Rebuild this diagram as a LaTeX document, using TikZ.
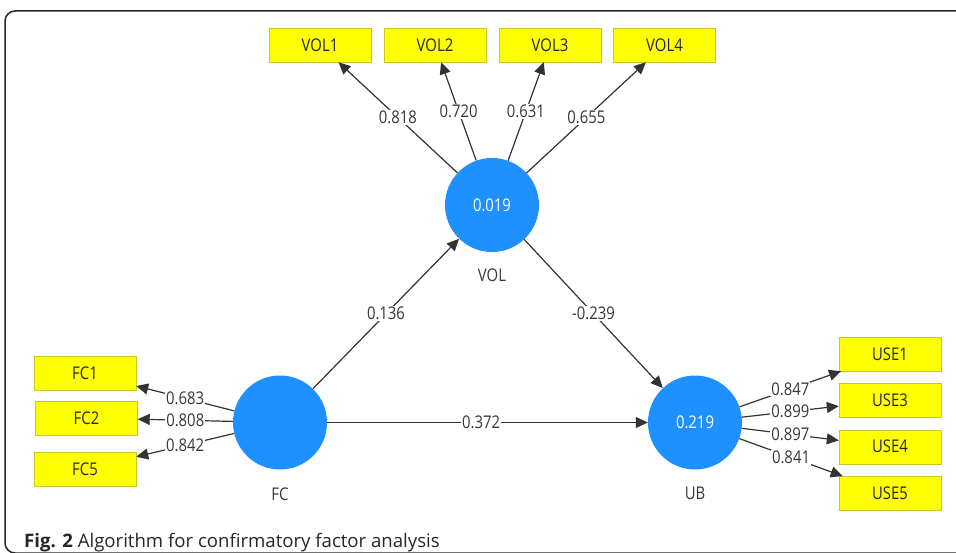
\documentclass[tikz,border=0pt]{standalone}
\usepackage{fontspec}
\setmainfont{Open Sans}
\newfontfamily\diagfont[FakeStretch=0.85]{Open Sans}
\usetikzlibrary{arrows.meta}
\definecolor{nodeblue}{RGB}{30,144,255}
\definecolor{boxyellow}{RGB}{255,255,0}
\definecolor{boxedge}{RGB}{200,200,40}
\definecolor{labelgray}{RGB}{55,55,55}
\begin{document}
\begin{tikzpicture}[x=1pt,y=-1pt,
 ind/.style={draw=boxedge, fill=boxyellow, minimum width=102pt, minimum height=34pt, inner sep=0pt, font=\diagfont\fontsize{17.5}{17.5}\selectfont, text=black!85},
 lat/.style={circle, fill=nodeblue, minimum size=94pt, inner sep=0pt, font=\diagfont\fontsize{17.5}{17.5}\selectfont, text=white},
 latname/.style={font=\diagfont\fontsize{17.5}{17.5}\selectfont, text=labelgray},
 conn/.style={draw=black!80, line width=1.2pt, -{Triangle[length=12pt,width=11pt]}},
 wt/.style={fill=white, inner sep=1pt, font=\diagfont\fontsize{17.5}{17.5}\selectfont, text=labelgray, midway}
]
\useasboundingbox (0,0) rectangle (956,553);
\begin{scope}
\clip (0,0) rectangle (956,553);
\draw[line width=1.5pt, rounded corners=10pt, black!85] (5,11) rectangle (990,553);
\end{scope}

% latent variables
\node[lat] (vol) at (492,205) {0.019};
\node[lat] (fc) at (280,422.5) {};
\node[lat] (ub) at (695,422.5) {0.219};
\node[latname] (volname) at (492,275) {VOL};
\node[latname] (fcname) at (280,494) {FC};
\node[latname] (ubname) at (695,493) {UB};

% indicators
\node[ind] (vol1) at (320,45) {VOL1};
\node[ind] (vol2) at (435,45) {VOL2};
\node[ind] (vol3) at (550,45) {VOL3};
\node[ind] (vol4) at (664.5,45) {VOL4};
\node[ind] (fc1) at (85,373) {FC1};
\node[ind] (fc2) at (86.5,418) {FC2};
\node[ind] (fc5) at (85,469) {FC5};
\node[ind] (use1) at (890,354) {USE1};
\node[ind] (use3) at (890,400.3) {USE3};
\node[ind] (use4) at (890,446.7) {USE4};
\node[ind] (use5) at (890,493.3) {USE5};

% loadings
\draw[conn] (vol) -- (vol1) node[wt] {0.818};
\draw[conn] (vol) -- (vol2) node[wt] {0.720};
\draw[conn] (vol) -- (vol3) node[wt] {0.631};
\draw[conn] (vol) -- (vol4) node[wt] {0.655};
\draw[conn] (fc) -- (fc1) node[wt] {0.683};
\draw[conn] (fc) -- (fc2) node[wt] {0.808};
\draw[conn] (fc) -- (fc5) node[wt] {0.842};
\draw[conn] (ub) -- (use1) node[wt] {0.847};
\draw[conn] (ub) -- (use3) node[wt] {0.899};
\draw[conn] (ub) -- (use4) node[wt] {0.897};
\draw[conn] (ub) -- (use5) node[wt] {0.841};

% paths
\draw[conn] (fc) -- (vol) node[wt] {0.136};
\draw[conn] (vol) -- (ub) node[wt] {-0.239};
\draw[conn] (fc) -- (ub) node[wt, pos=0.48] {0.372};

% caption
\node[anchor=base west, inner sep=0pt, font=\fontsize{18.6}{22}\selectfont, text=black!85] (caption) at (24,547) {\textbf{Fig. 2} Algorithm for confirmatory factor analysis};
\end{tikzpicture}
\end{document}
